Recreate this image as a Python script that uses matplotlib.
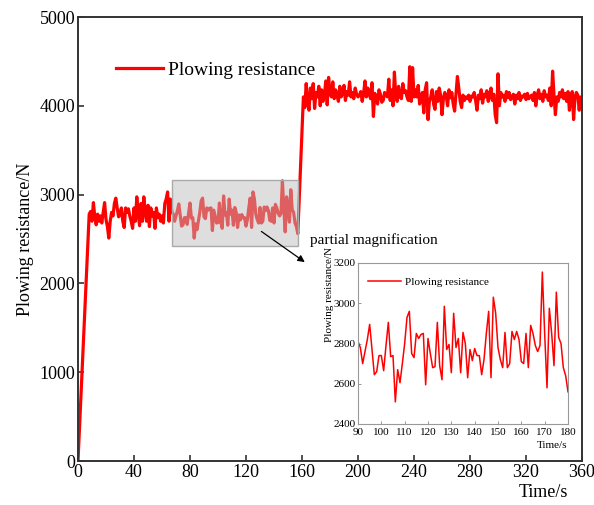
import numpy as np
import matplotlib
matplotlib.use("Agg")
import matplotlib.pyplot as plt
from matplotlib.patches import Rectangle

plt.rcParams['font.family'] = ['Liberation Serif', 'DejaVu Serif']
plt.rcParams['mathtext.fontset'] = 'stix'

# ---------------- data ----------------
series_label = "Plowing resistance"

# start-up ramp
ramp_t = [0, 8]
ramp_v = [0, 2780]

# 9 .. 66 s
early_v = [2810, 2700, 2910, 2750, 2660, 2780, 2700, 2760, 2680, 2800,
           2910, 2720, 2640, 2510, 2700, 2800, 2760, 2900, 2960, 2850,
           2750, 2780, 2850, 2700, 2630, 2850, 2800, 2840, 2760, 2700,
           2620, 2850, 2700, 2975, 2780, 2650, 2900, 2700, 2975, 2800,
           2700, 2880, 2640, 2850, 2760, 2800, 2620, 2850, 2740, 2780,
           2700, 2760, 2680, 2900, 2950, 3030, 2700, 2950]
early_t0 = 9

# magnified window (inset time axis 90..180 s)
inset_t0 = 90
inset_v = [2810, 2780, 2700, 2760, 2820, 2895, 2770, 2645, 2660, 2740,
           2740, 2665, 2790, 2905, 2735, 2740, 2510, 2670, 2605, 2700,
           2800, 2930, 2960, 2750, 2730, 2850, 2825, 2845, 2850, 2595,
           2825, 2750, 2680, 2685, 2905, 2690, 2620, 2985, 2770, 2795,
           2655, 2950, 2780, 2825, 2655, 2855, 2800, 2630, 2770, 2715,
           2775, 2740, 2740, 2645, 2720, 2850, 2960, 2630, 3030, 2950,
           2780, 2720, 2680, 2855, 2680, 2700, 2860, 2820, 2860, 2820,
           2710, 2700, 2850, 2680, 2890, 2850, 2790, 2760, 2790, 3155,
           2850, 2580, 2975, 2850, 2690, 3055, 2830, 2800, 2680, 2640,
           2560]
# same segment as it appears on the main time axis
window_main_t0 = 67

# 161 .. 360 s
late_t0 = 161
late_v = [4100, 3980, 4250, 4050, 3950, 4200, 4080, 4250, 3970, 4150,
          4100, 4220, 4000, 4180, 4050, 4120, 4280, 4010, 4320, 4150,
          4100, 4270, 4080, 4180, 4120, 4050, 4220, 4100, 4150, 4230,
          4060, 4160, 4120, 4270, 4100, 4150, 4080, 4200, 4130, 4100,
          4120, 4160, 4050, 4140, 4280, 4100, 4200, 4130, 4080, 4260,
          3880, 4140, 4100, 4020, 4180, 4130, 4040, 4060, 4150, 4120,
          4100, 4300, 4060, 4180, 4000, 4380, 4120, 4050, 4220, 4100,
          4080, 4250, 4150, 4170, 4100, 4060, 4440, 4050, 4430, 4100,
          4180, 4100, 4230, 4020, 4100, 4150, 3920, 4180, 4260, 3845,
          4050, 4100, 4180, 4020, 3960, 4160, 4050, 4200, 4120, 3900,
          4080, 4150, 4110, 4000, 4180, 4090, 4150, 4020, 3940, 4130,
          4330, 4200, 4050, 3980, 4120, 4060, 4100, 4080, 4120, 4050,
          4110, 4100, 4150, 4060, 3950, 4120, 4080, 4180, 4030, 4130,
          4100, 4170, 4050, 4110, 4200, 4060, 4130, 3900, 3810, 4360,
          4000, 4150, 4100, 4120, 4050, 4160, 4090, 4150, 4070, 4100,
          4130, 4020, 4120, 4080, 4150, 4060, 4110, 4100, 4130, 4070,
          4140, 4080, 4100, 4120, 4060, 4150, 4000, 4120, 4180, 4080,
          4130, 4050, 4170, 4100, 4120, 4060, 4200, 4000, 4390, 4120,
          3900, 4100, 4050, 4150, 4100, 4180, 4080, 4140, 4050, 4160,
          3950, 4100, 4160, 3845, 4100, 4150, 4120, 3950, 4100, 4050]

main_xticks = [0, 40, 80, 120, 160, 200, 240, 280, 320, 360]
main_yticks = [0, 1000, 2000, 3000, 4000, 5000]
inset_xticks = [90, 100, 110, 120, 130, 140, 150, 160, 170, 180]
inset_yticks = [2400, 2600, 2800, 3000, 3200]
zoom_box = (67, 2420, 90, 750)   # x, y, width, height in data units

# ---------------- assemble main series ----------------
t_main = np.concatenate([
    np.array(ramp_t, float),
    early_t0 + np.arange(len(early_v)),
    window_main_t0 + np.arange(len(inset_v)),
    late_t0 + np.arange(len(late_v)),
])
v_main = np.concatenate([ramp_v, early_v, inset_v, late_v]).astype(float)
t_inset = inset_t0 + np.arange(len(inset_v))

# ---------------- figure ----------------
W, H = 594, 505
fig = plt.figure(figsize=(W / 100, H / 100), dpi=100)
ax = fig.add_axes([78 / W, 1 - 461 / H, 504 / W, 444 / H])

ax.plot(t_main, v_main, color='#ff0000', lw=2.3, label=series_label, zorder=2)
ax.set_xlim(0, 360)
ax.set_ylim(0, 5000)
ax.set_xticks(main_xticks)
ax.set_yticks(main_yticks)
ax.tick_params(direction='in', length=4, width=1.2, labelsize=13, pad=2,
               color='#333333')
for s in ax.spines.values():
    s.set_color('#333333')
    s.set_linewidth(1.4)
ax.set_ylabel('Plowing resistance/N', fontsize=13, labelpad=4)
ax.set_xlabel('Time/s', fontsize=13)
ax.xaxis.set_label_coords((568 - 78) / 504, -0.072)
ax.xaxis.label.set_ha('right')
ax.xaxis.label.set_va('center')

leg = ax.legend(loc='center left',
                bbox_to_anchor=((116 - 78) / 504, (461 - 70) / 444),
                frameon=False, fontsize=14, handlelength=2.4,
                handletextpad=0.3, borderpad=0, borderaxespad=0)

# magnified region box
ax.add_patch(Rectangle((zoom_box[0], zoom_box[1]), zoom_box[2], zoom_box[3],
                       facecolor=(0.75, 0.75, 0.75, 0.5),
                       edgecolor='#aaaaaa', lw=1.0, zorder=3))

ax.annotate('', xy=(162, 2240), xytext=(131, 2585),
            arrowprops=dict(arrowstyle='-|>', color='black', lw=0.9,
                            mutation_scale=10, shrinkA=0, shrinkB=0),
            zorder=4)
ax.text(165.5, 2490, 'partial magnification', fontsize=11,
        ha='left', va='center', zorder=4)

# ---------------- inset ----------------
axi = fig.add_axes([358 / W, 1 - 424 / H, 210 / W, 161 / H])
axi.plot(t_inset, inset_v, color='#ff0000', lw=1.1, label=series_label)
axi.set_xlim(90, 180)
axi.set_ylim(2400, 3200)
axi.set_xticks(inset_xticks)
axi.set_yticks(inset_yticks)
axi.tick_params(direction='in', length=2, width=0.6, labelsize=8, pad=1.5,
                color='#888888')
axi.tick_params(axis='x', pad=3)
for s in axi.spines.values():
    s.set_color('#999999')
    s.set_linewidth(0.8)
axi.set_ylabel('Plowing resistance/N', fontsize=8)
axi.yaxis.set_label_coords((329 - 358) / 210, (424 - 294) / 161)
axi.yaxis.label.set_va('center')
axi.set_xlabel('Time/s', fontsize=8)
axi.xaxis.set_label_coords(1 - 1 / 210, (424 - 446) / 161)
axi.xaxis.label.set_ha('right')
axi.xaxis.label.set_va('center')
axi.legend(loc='center left',
           bbox_to_anchor=((368 - 358) / 210, (424 - 282) / 161),
           frameon=False, fontsize=8, handlelength=3.0,
           handletextpad=0.3, borderpad=0, borderaxespad=0)

fig.savefig('out.png', dpi=100)
